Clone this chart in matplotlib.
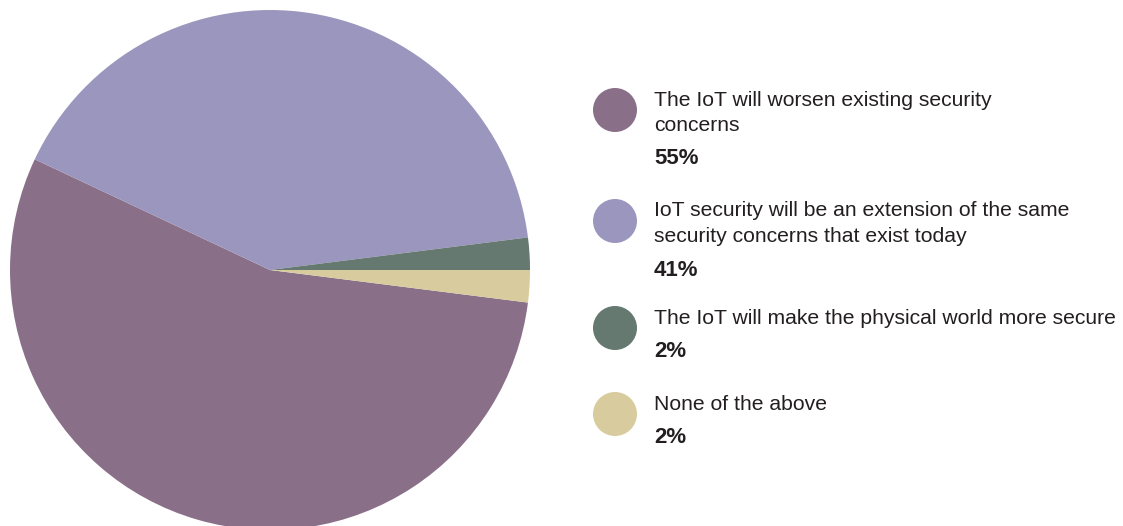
import matplotlib.pyplot as plt
from matplotlib.patches import Circle

plt.rcParams['font.family'] = ['Liberation Sans', 'DejaVu Sans']

labels = [
    "The IoT will worsen existing security\nconcerns",
    "IoT security will be an extension of the same\nsecurity concerns that exist today",
    "The IoT will make the physical world more secure",
    "None of the above",
]
values = [55, 41, 2, 2]
colors = ["#8a6f89", "#9b96bd", "#657970", "#d8cc9e"]

W, H = 1123, 526
fig = plt.figure(figsize=(W / 100, H / 100), dpi=100)
ax = fig.add_axes([0, 0, 1, 1])

# pie, clockwise so the small slices sit on the right
ax.pie(values, colors=colors, startangle=-7.2, counterclock=False,
       center=(270, H - 270), radius=260, frame=True,
       wedgeprops=dict(linewidth=0))

# legend drawn by hand, y in pixels from the top
item_top = [100, 211, 318, 404]
line_h = 25.5
for lab, val, col, y in zip(labels, values, colors, item_top):
    ax.add_patch(Circle((615, H - (y + 10)), 22, color=col, lw=0))
    lines = lab.split("\n")
    for i, ln in enumerate(lines):
        ax.text(654, H - (y + i * line_h), ln, fontsize=15.2, color="#231f20",
                va="center", ha="left")
    ax.text(654, H - (y + len(lines) * line_h + 8), f"{val}%", fontsize=16,
            fontweight="bold", color="#231f20", va="center", ha="left")

ax.set_xlim(0, W)
ax.set_ylim(0, H)
ax.set_aspect("equal")
ax.axis("off")

fig.savefig("out.png", dpi=100)
